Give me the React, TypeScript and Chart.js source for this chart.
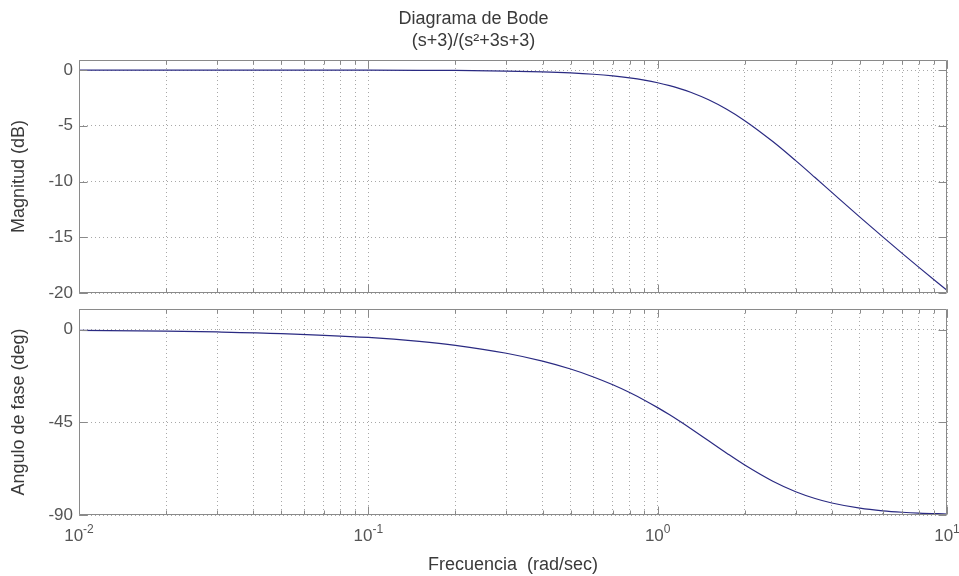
import React, { useEffect, useRef } from 'react';
import { Chart, registerables } from 'chart.js';

Chart.register(...registerables);

// ---- data ----
const frequency = [0.01, 0.02, 0.03, 0.05, 0.1, 0.15, 0.2, 0.3, 0.4, 0.5, 0.6, 0.7, 0.8, 0.9, 1.0, 1.1, 1.2, 1.3, 1.5, 1.732, 2, 2.5, 3, 3.5, 4, 5, 6, 7, 8, 10];
const magnitudeDb = [0, 0, 0, -0.002, -0.01, -0.022, -0.039, -0.089, -0.161, -0.256, -0.377, -0.525, -0.701, -0.906, -1.139, -1.4, -1.687, -1.995, -2.672, -3.522, -4.543, -6.416, -8.129, -9.645, -10.976, -13.192, -14.969, -16.443, -17.698, -19.758];
const phaseDeg = [-0.382, -0.764, -1.146, -1.91, -3.82, -5.73, -7.64, -11.48, -15.32, -19.15, -22.98, -26.79, -30.55, -34.25, -37.87, -41.38, -44.77, -48.01, -53.97, -60, -65.77, -73.62, -78.69, -81.97, -84.16, -86.67, -87.96, -88.66, -89.08, -89.51];

const magTicks = [0, -5, -10, -15, -20];
const phaseTicks = [0, -45, -90];
const xGridTicks = [0.01, 0.02, 0.03, 0.04, 0.05, 0.06, 0.07, 0.08, 0.09, 0.1, 0.2, 0.3, 0.4, 0.5, 0.6, 0.7, 0.8, 0.9, 1, 2, 3, 4, 5, 6, 7, 8, 9, 10];
const xMajorTicks = [0.01, 0.1, 1, 10];
const xTickBase = ['10', '10', '10', '10'];
const xTickExponents = ['-2', '-1', '0', '1'];

const titleText = 'Diagrama de Bode';
const subtitleText = '(s+3)/(s\u00B2+3s+3)';
const magLabel = 'Magnitud (dB)';
const phaseLabel = 'Angulo de fase (deg)';
const freqLabel = 'Frecuencia  (rad/sec)';

const FONT = "'Liberation Sans', Arial, Helvetica, sans-serif";
const TEXT = '#3a3a3a';
const TICK_TEXT = '#555555';
const BOX = '#8a8a8a';
const GRID = '#a8a8a8';
const LINE = '#2a2a82';

const framePlugin = {
  id: 'matlabFrame',
  afterDraw(chart: any, _args: any, opts: any) {
    const { ctx, chartArea: a, scales } = chart;
    const xs = scales.x;
    const ys = scales.y;
    const L = Math.round(a.left) + 0.5;
    const R = Math.round(a.right) - 0.5;
    const T = Math.round(a.top) + 0.5;
    const B = Math.round(a.bottom) - 0.5;
    ctx.save();
    ctx.strokeStyle = BOX;
    ctx.lineWidth = 1;
    ctx.setLineDash([]);
    ctx.beginPath();
    ctx.rect(L, T, R - L, B - T);
    // x ticks (inward, top and bottom)
    xGridTicks.forEach((v) => {
      const px = Math.round(xs.getPixelForValue(v)) + 0.5;
      const len = xMajorTicks.includes(v) ? 8 : 4;
      ctx.moveTo(px, B);
      ctx.lineTo(px, B - len);
      ctx.moveTo(px, T);
      ctx.lineTo(px, T + len);
    });
    // y ticks (inward, left and right)
    (opts.yTicks || []).forEach((v: number) => {
      const py = Math.round(ys.getPixelForValue(v)) + 0.5;
      ctx.moveTo(L, py);
      ctx.lineTo(L + 8, py);
      ctx.moveTo(R, py);
      ctx.lineTo(R - 8, py);
    });
    ctx.stroke();

    if (opts.xLabels) {
      ctx.fillStyle = TICK_TEXT;
      ctx.textBaseline = 'alphabetic';
      xMajorTicks.forEach((v, i) => {
        const px = xs.getPixelForValue(v);
        ctx.font = `17px ${FONT}`;
        const wb = ctx.measureText(xTickBase[i]).width;
        ctx.font = `12px ${FONT}`;
        const we = ctx.measureText(xTickExponents[i]).width;
        const start = px - (wb + we) / 2;
        const baseY = a.bottom + 26;
        ctx.font = `17px ${FONT}`;
        ctx.textAlign = 'left';
        ctx.fillText(xTickBase[i], start, baseY);
        ctx.font = `12px ${FONT}`;
        ctx.fillText(xTickExponents[i], start + wb, baseY - 8);
      });
    }
    ctx.restore();
  },
};

function makeOptions(cfg: {
  yMin: number; yMax: number; yTicks: number[]; yLabel: string;
  xHeight: number; top: boolean;
}): any {
  return {
    animation: false,
    responsive: false,
    maintainAspectRatio: false,
    devicePixelRatio: 1,
    layout: { padding: { left: 0, right: 12, top: cfg.top ? 0 : 9, bottom: 0 } },
    plugins: {
      legend: { display: false },
      tooltip: { enabled: false },
      title: cfg.top
        ? { display: true, text: titleText, color: TEXT, font: { family: FONT, size: 18, weight: 'normal' }, padding: { top: 8, bottom: 0 } }
        : { display: false },
      subtitle: cfg.top
        ? { display: true, text: subtitleText, color: TEXT, font: { family: FONT, size: 18, weight: 'normal' }, padding: { top: 1, bottom: 7.8 } }
        : { display: false },
      matlabFrame: { yTicks: cfg.yTicks, xLabels: !cfg.top },
    },
    scales: {
      x: {
        type: 'logarithmic',
        min: 0.01,
        max: 10,
        afterBuildTicks: (scale: any) => {
          scale.ticks = xGridTicks.map((v) => ({ value: v, major: xMajorTicks.includes(v) }));
        },
        afterFit: (scale: any) => {
          scale.height = cfg.xHeight;
          scale.paddingLeft = 0;
          scale.paddingRight = 0;
        },
        ticks: { display: false },
        grid: { color: GRID, lineWidth: 1, drawTicks: false },
        border: { display: false, dash: [1, 3] },
        title: cfg.top
          ? { display: false }
          : { display: true, text: freqLabel, color: TEXT, font: { family: FONT, size: 18 }, padding: { top: 0, bottom: 0 } },
      },
      y: {
        type: 'linear',
        min: cfg.yMin,
        max: cfg.yMax,
        afterBuildTicks: (scale: any) => {
          scale.ticks = cfg.yTicks.map((v) => ({ value: v }));
        },
        afterFit: (scale: any) => {
          scale.width = 79;
          scale.paddingTop = 0;
          scale.paddingBottom = 0;
        },
        ticks: { color: TICK_TEXT, font: { family: FONT, size: 17 }, padding: 6 },
        grid: { color: GRID, lineWidth: 1, drawTicks: false },
        border: { display: false, dash: [1, 3] },
        title: { display: true, text: cfg.yLabel, color: TEXT, font: { family: FONT, size: 18 }, padding: { top: 8, bottom: 0 } },
      },
    },
  };
}

export default function App() {
  const topRef = useRef<HTMLCanvasElement | null>(null);
  const botRef = useRef<HTMLCanvasElement | null>(null);

  useEffect(() => {
    const top = new Chart(topRef.current as HTMLCanvasElement, {
      type: 'line',
      data: {
        datasets: [{
          data: frequency.map((f, i) => ({ x: f, y: magnitudeDb[i] })),
          borderColor: LINE, borderWidth: 1.2, pointRadius: 0, cubicInterpolationMode: 'monotone', fill: false,
        }],
      },
      options: makeOptions({ yMin: -20, yMax: 0.9, yTicks: magTicks, yLabel: magLabel, xHeight: 7, top: true }),
      plugins: [framePlugin],
    } as any);
    const bot = new Chart(botRef.current as HTMLCanvasElement, {
      type: 'line',
      data: {
        datasets: [{
          data: frequency.map((f, i) => ({ x: f, y: phaseDeg[i] })),
          borderColor: LINE, borderWidth: 1.2, pointRadius: 0, cubicInterpolationMode: 'monotone', fill: false,
        }],
      },
      options: makeOptions({ yMin: -90, yMax: 10, yTicks: phaseTicks, yLabel: phaseLabel, xHeight: 61, top: false }),
      plugins: [framePlugin],
    } as any);
    return () => { top.destroy(); bot.destroy(); };
  }, []);

  return (
    <div style={{ position: 'fixed', left: 0, top: 0, width: 959, height: 576, background: '#ffffff' }}>
      <canvas ref={topRef} width={959} height={300} style={{ position: 'absolute', left: 0, top: 0, width: 959, height: 300 }} />
      <canvas ref={botRef} width={959} height={276} style={{ position: 'absolute', left: 0, top: 300, width: 959, height: 276 }} />
    </div>
  );
}
